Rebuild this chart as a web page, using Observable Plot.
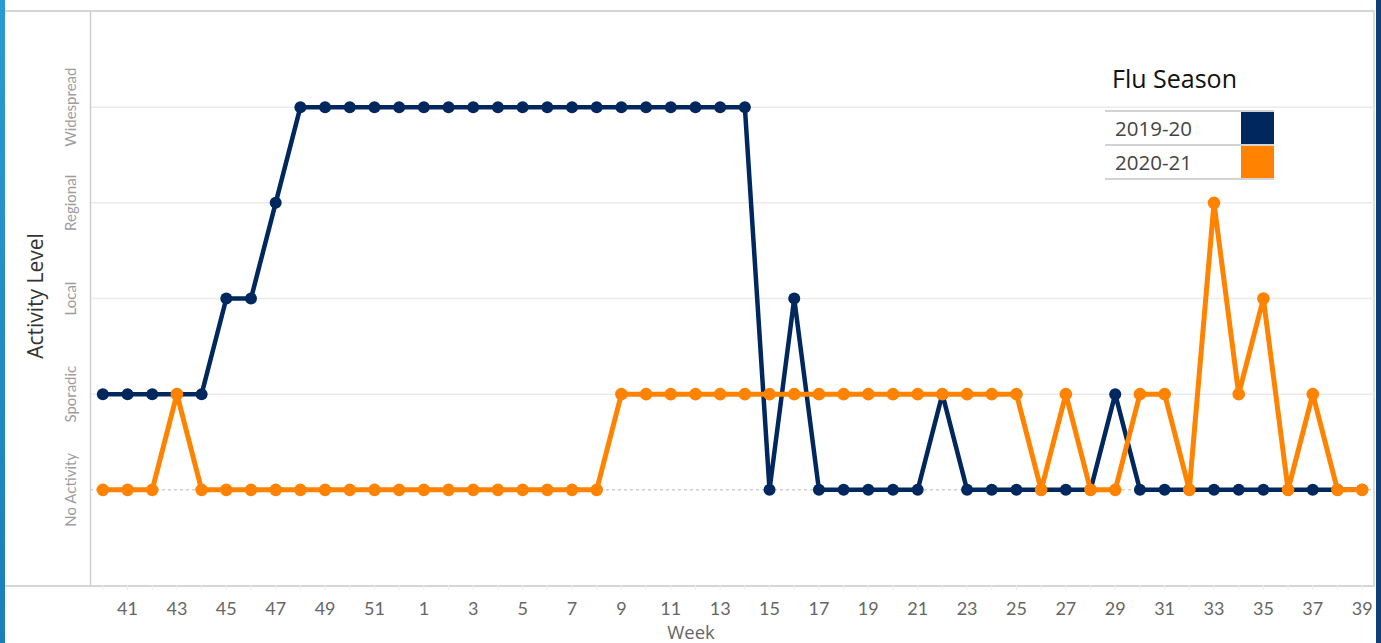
<!DOCTYPE html>
<html>
<head>
<meta charset="utf-8">
<script src="https://cdn.jsdelivr.net/npm/d3@7"></script>
<script src="https://cdn.jsdelivr.net/npm/@observablehq/plot@0.6"></script>
<style>
  html, body { margin: 0; padding: 0; background: #fff; }
  #wrap { position: relative; width: 1381px; height: 643px; overflow: hidden; font-family: "Open Sans", sans-serif; }
  #box { position: absolute; left: 5px; top: 10px; width: 1368px; height: 573px; border-top: 2px solid #d6d6d6; border-bottom: 2px solid #d6d6d6; border-right: 2px solid #dcdcdc; }
  #leftStrip { position: absolute; left: 0; top: 0; width: 5px; height: 643px; background: linear-gradient(#2c9ad2, #1a7fba); }
  #rightStrip { position: absolute; left: 1376px; top: 0; width: 5px; height: 643px; background: #0f3f78; }
  #chart { position: absolute; left: 0; top: 0; }
  #ytitle { position: absolute; left: 35px; top: 296px; transform: translate(-50%, -50%) rotate(-90deg); font-size: 21px; color: #333; white-space: nowrap; line-height: 24px; }
  #xtitle { position: absolute; left: 691px; top: 632px; transform: translate(-50%, -50%); font-size: 18.5px; line-height: 20px; color: #666; white-space: nowrap; }
  #legend { position: absolute; left: 1105px; top: 62px; width: 169px; }
  #legend .title { position: absolute; left: 7px; top: 0; font-size: 25px; line-height: 32px; color: #111; white-space: nowrap; }
  #legend .rows { position: absolute; left: 0; top: 48px; width: 169px; border-bottom: 2px solid #d3d3d3; }
  #legend .row { position: relative; height: 32px; border-top: 2px solid #d3d3d3; }
  #legend .row span { position: absolute; left: 10px; top: 0; line-height: 32px; font-size: 20.5px; color: #444; }
  #legend .row i { position: absolute; right: 0; top: 0; width: 33px; height: 32px; }
</style>
</head>
<body>
<div id="wrap">
  <div id="box"></div>
  <div id="chart"></div>
  <div id="leftStrip"></div>
  <div id="rightStrip"></div>
  <div id="ytitle">Activity Level</div>
  <div id="xtitle">Week</div>
  <div id="legend"></div>
</div>
<script>
// ---- data ----
const weeks = [40,41,42,43,44,45,46,47,48,49,50,51,52,1,2,3,4,5,6,7,8,9,10,11,12,13,14,15,16,17,18,19,20,21,22,23,24,25,26,27,28,29,30,31,32,33,34,35,36,37,38,39];
const levels = ["No Activity", "Sporadic", "Local", "Regional", "Widespread"];
const seasons = ["2019-20", "2020-21"];
const seasonColors = ["#00285e", "#ff8300"];
const season1920 = [1,1,1,1,1,2,2,3,4,4,4,4,4,4,4,4,4,4,4,4,4,4,4,4,4,4,4,0,2,0,0,0,0,0,1,0,0,0,0,0,0,1,0,0,0,0,0,0,0,0,0,0];
const season2021 = [0,0,0,1,0,0,0,0,0,0,0,0,0,0,0,0,0,0,0,0,0,1,1,1,1,1,1,1,1,1,1,1,1,1,1,1,1,1,0,1,0,0,1,1,0,3,1,2,0,1,0,0];

const d1920 = season1920.map((v, i) => ({i, v, week: weeks[i]}));
const d2021 = season2021.map((v, i) => ({i, v, week: weeks[i]}));
const allIdx = weeks.map((w, i) => i);
const oddIdx = weeks.map((w, i) => i).filter(i => weeks[i] % 2 === 1);

const chart = Plot.plot({
  width: 1381,
  height: 643,
  marginLeft: 90,
  marginRight: 7,
  marginTop: 11,
  marginBottom: 58,
  style: { fontFamily: "Lato, 'Open Sans', sans-serif", background: "transparent" },
  x: { domain: [-0.5, weeks.length - 0.5] },
  y: { domain: [-1, levels.length] },
  marks: [
    Plot.gridY([1, 2, 3, 4], { stroke: "#ebebeb", strokeOpacity: 1, strokeWidth: 1.5 }),
    Plot.ruleY([0], { stroke: "#b8b8b8", strokeDasharray: "3,3", strokeWidth: 1 }),
    Plot.frame({ anchor: "left", stroke: "#cfcfcf", strokeWidth: 1.5 }),
    Plot.axisY({ ticks: [0, 1, 2, 3, 4], tickFormat: d => levels[d], tickRotate: -90, tickSize: 0, tickPadding: 15, fontSize: 15, fill: "#9d9d9d", label: null, style: { letterSpacing: "0.8px", fontFamily: "'Open Sans', sans-serif" } }),
    Plot.axisX({ ticks: allIdx, tickFormat: () => "", tickSize: 5, stroke: "#ececec", label: null }),
    Plot.axisX({ ticks: oddIdx, tickFormat: i => String(weeks[i]), tickSize: 0, tickPadding: 17, fontSize: 18, fill: "#666", label: null }),
    Plot.line(d1920, { x: "i", y: "v", stroke: seasonColors[0], strokeWidth: 4.5 }),
    Plot.dot(d1920, { x: "i", y: "v", r: 6, fill: seasonColors[0], stroke: "none" }),
    Plot.line(d2021, { x: "i", y: "v", stroke: seasonColors[1], strokeWidth: 5 }),
    Plot.dot(d2021, { x: "i", y: "v", r: 6.3, fill: seasonColors[1], stroke: "none" })
  ]
});
document.getElementById("chart").appendChild(chart);

// legend
const lg = document.getElementById("legend");
const t = document.createElement("div");
t.className = "title";
t.textContent = "Flu Season";
lg.appendChild(t);
const rows = document.createElement("div");
rows.className = "rows";
seasons.forEach((s, k) => {
  const r = document.createElement("div");
  r.className = "row";
  const sp = document.createElement("span");
  sp.textContent = s;
  const sw = document.createElement("i");
  sw.style.background = seasonColors[k];
  r.appendChild(sp);
  r.appendChild(sw);
  rows.appendChild(r);
});
lg.appendChild(rows);
</script>
</body>
</html>
